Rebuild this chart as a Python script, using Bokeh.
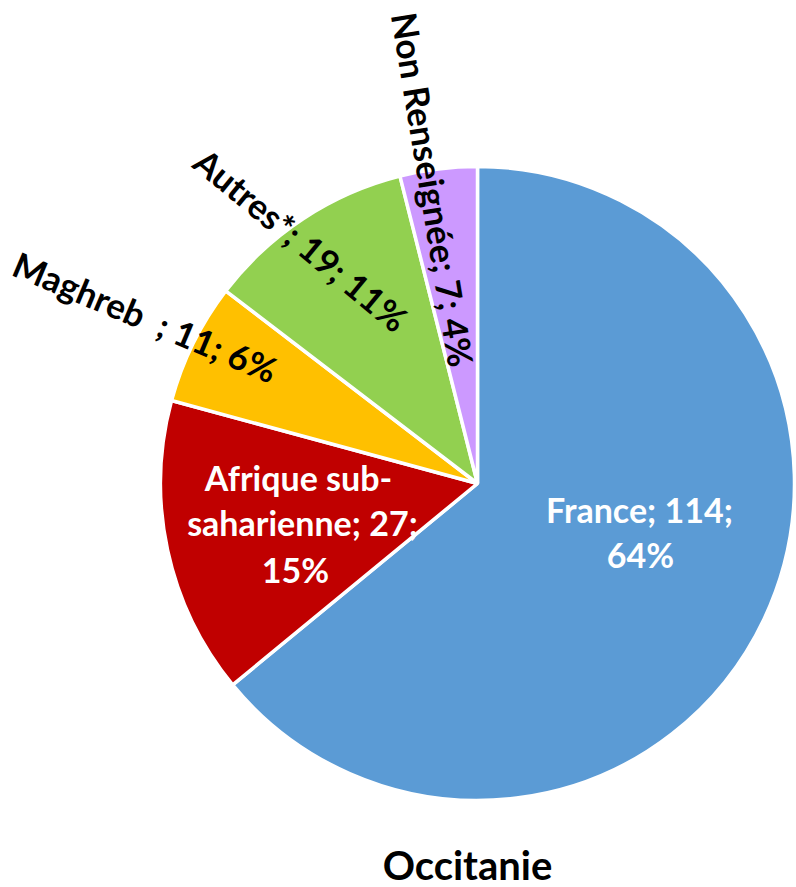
import numpy as np
from bokeh.plotting import figure
from bokeh.models import Range1d, ColumnDataSource
from bokeh.core.properties import value
from bokeh.embed import file_html
from bokeh.resources import INLINE

# ---- data ----
categories = ["France", "Afrique sub-saharienne", "Maghreb", "Autres*", "Non Renseignée"]
counts = [114, 27, 11, 19, 7]
percents = [64, 15, 6, 11, 4]
colors = ["#5B9BD5", "#C00000", "#FFC000", "#92D050", "#CC99FF"]
chart_title = "Occitanie"

# ---- layout (data units == screen pixels, y measured downward as negative) ----
W, H = 796, 887
FONT = value("Lato")
p = figure(width=W, height=H, x_range=Range1d(0, W), y_range=Range1d(-H, 0),
           output_backend="svg", toolbar_location=None, min_border=0)
p.axis.visible = False
p.grid.visible = False
p.outline_line_color = None
p.background_fill_color = "white"
p.border_fill_color = "white"

cx, cy, r = 477, -483, 317
total = sum(counts)
ang = np.array(counts) / total * 2 * np.pi
start = np.pi / 2 - np.concatenate([[0], np.cumsum(ang)[:-1]])
end = start - ang
src = ColumnDataSource(dict(start=start, end=end, color=colors))
p.wedge(x=cx, y=cy, radius=r, start_angle="start", end_angle="end", direction="clock",
        fill_color="color", line_color="white", line_width=3.5, source=src)

# inside labels (multi-line, white)
afr = categories[1].split("-")
inside_lines = [
    (f"{categories[0]}; {counts[0]};", 639, 509),
    (f"{percents[0]}%", 640, 554),
    (afr[0] + "-", 298, 477),
    (f"{afr[1]}; {counts[1]};", 302, 522),
    (f"{percents[1]}%", 295, 569),
]
p.text(x=[t[1] for t in inside_lines], y=[-t[2] for t in inside_lines],
       text=[t[0] for t in inside_lines], text_color="white", text_font=FONT,
       text_font_style="bold", text_font_size="34px", text_align="center",
       text_baseline="alphabetic")

# rotated outside labels (black)
rot = [
    (f"{categories[2]}\u00a0\u00a0; {counts[2]}; {percents[2]}%", 145, 316, -22.8),
    (f"{categories[3]}; {counts[3]}; {percents[3]}%", 301, 239, -39.5),
    (f"{categories[4]}; {counts[4]}; {percents[4]}%", 433, 189, -80.7),
]
p.text(x=[t[1] for t in rot], y=[-t[2] for t in rot], text=[t[0] for t in rot],
       angle=[np.deg2rad(t[3]) for t in rot], text_color="black", text_font=FONT,
       text_font_style="bold", text_font_size="35px", text_align="center",
       text_baseline="middle")

p.text(x=[467], y=[-864], text=[chart_title], text_color="black", text_font=FONT,
       text_font_style="bold", text_font_size="40px", text_align="center",
       text_baseline="alphabetic")

open("out.html", "w").write(file_html(p, INLINE))
